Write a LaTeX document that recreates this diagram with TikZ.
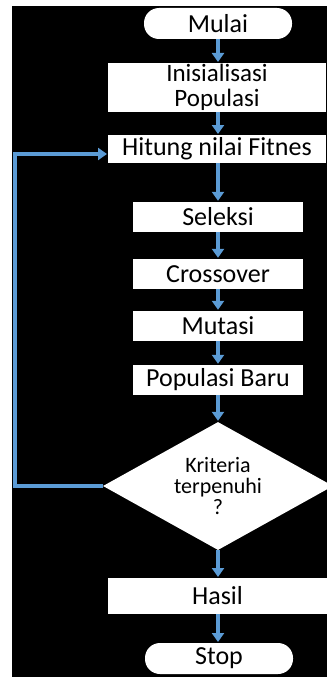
\documentclass[tikz,border=0pt]{standalone}
\usepackage{fontspec}
\setmainfont{Carlito}
\usetikzlibrary{shapes.geometric,arrows.meta}
\definecolor{arrblue}{HTML}{5B9BD5}
\begin{document}
\begin{tikzpicture}[x=1pt,y=-1pt,
  boxnode/.style={fill=white,draw=none,inner sep=0pt,align=center,
    font=\fontsize{26}{23}\selectfont,text=black},
  termnode/.style={boxnode,rounded corners=15pt},
  decnode/.style={fill=white,draw=none,diamond,inner sep=0pt,align=center,
    font=\fontsize{22}{21}\selectfont,text=black},
  arr/.style={draw=arrblue,line width=3.2pt,line join=miter,
    -{Triangle[width=12pt,length=9pt]},shorten >=1pt}]
\useasboundingbox (0,0) rectangle (327,677);
\fill[white] (0,0) rectangle (327,677);
\fill[black] (12,6) rectangle (327,677);
\node[termnode,minimum width=148pt,minimum height=31pt] (mulai) at (218,23.5) {Mulai};
\node[boxnode,minimum width=218pt,minimum height=49pt,
  font=\fontsize{25}{24.5}\selectfont] (init) at (217,87.5) {Inisialisasi\\Populasi};
\node[boxnode,minimum width=218pt,minimum height=28pt] (hit) at (217,149) {Hitung nilai Fitnes};
\node[boxnode,minimum width=170pt,minimum height=30pt] (sel) at (218,217) {Seleksi};
\node[boxnode,minimum width=170pt,minimum height=30pt] (cro) at (218,274) {Crossover};
\node[boxnode,minimum width=170pt,minimum height=30pt] (mut) at (218,326) {Mutasi};
\node[boxnode,minimum width=170pt,minimum height=30pt] (pop) at (218,380) {Populasi Baru};
\node[decnode,minimum width=230pt,minimum height=128pt,aspect=1.8] (dia) at (218,486) {Kriteria\\terpenuhi\\?};
\node[boxnode,minimum width=219pt,minimum height=36pt] (has) at (217.5,596) {Hasil};
\node[termnode,minimum width=148pt,minimum height=31pt] (stop) at (219,658.5) {Stop};
\coordinate (lx) at (15,0);
\coordinate (hin) at (108,154);
\draw[arr] (218,39) -- (218,63);
\draw[arr] (218,112) -- (218,135);
\draw[arr] (218,163) -- (sel.north);
\draw[arr] (sel.south) -- (cro.north);
\draw[arr] (cro.south) -- (mut.north);
\draw[arr] (mut.south) -- (pop.north);
\draw[arr] (pop.south) -- (dia.north);
\draw[arr] (dia.south) -- (218,578);
\draw[arr] (218,614) -- (218,643);
\draw[arr] (dia.west) -| (lx |- hin) -- (hin);
\end{tikzpicture}
\end{document}
